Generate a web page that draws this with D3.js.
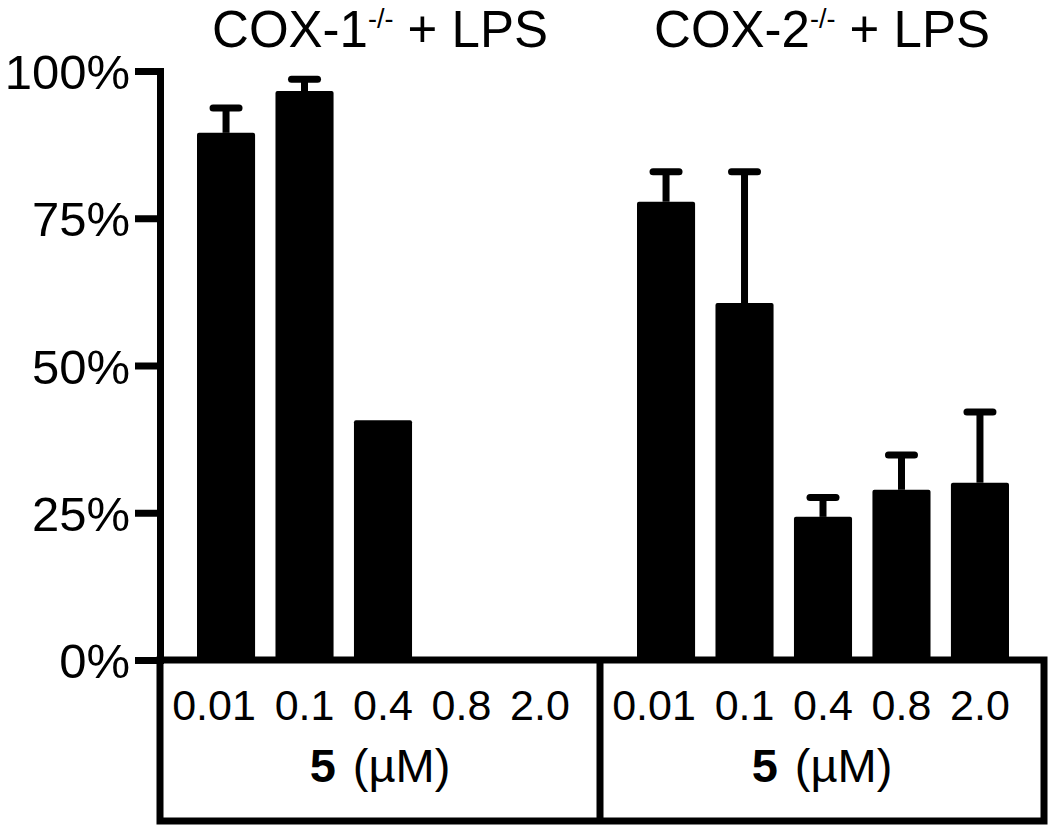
<!DOCTYPE html>
<html>
<head>
<meta charset="utf-8">
<script src="https://cdn.jsdelivr.net/npm/d3@7"></script>
<style>
  body { margin: 0; background: #fff; }
  svg { display: block; font-family: "Liberation Sans", Arial, Helvetica, sans-serif; }
</style>
</head>
<body>
<div id="chart"></div>
<script>
// data (% of control)
const groups = ["COX-1", "COX-2"];
const doses = ["0.01", "0.1", "0.4", "0.8", "2.0"];
const cox1Values = [89.5, 96.6, 40.7, 0, 0];
const cox1Errors = [4.2, 2.0, null, null, null];
const cox2Values = [77.8, 60.6, 24.3, 28.9, 30.1];
const cox2Errors = [5.1, 22.3, 3.3, 5.9, 12.0];
const yTicks = [0, 25, 50, 75, 100];
const unitLabel = "(µM)";
const compoundLabel = "5";

const seriesValues = [cox1Values, cox2Values];
const seriesErrors = [cox1Errors, cox2Errors];

const width = 1050, height = 826;
const lw = 7;

// build rows for drawing
const rows = [];
groups.forEach((g, gi) => {
    doses.forEach((d, di) => {
        rows.push({ group: g, dose: d, value: seriesValues[gi][di], err: seriesErrors[gi][di] });
    });
});

const svg = d3.select("#chart").append("svg")
    .attr("width", width)
    .attr("height", height);

// scales
const y = d3.scaleLinear().domain([0, 100]).range([660, 71]);
const xGroup = d3.scaleBand().domain(groups).range([160, 1040]);
const xDose = d3.scaleBand().domain(doses).range([37, 409]).paddingInner(0.26);
const boxRight = 1044, boxBottom = 821;

// bars
svg.append("g").selectAll("rect")
    .data(rows.filter(r => r.value > 0))
    .enter()
    .append("rect")
    .attr("x", d => xGroup(d.group) + xDose(d.dose))
    .attr("y", d => y(d.value))
    .attr("width", xDose.bandwidth())
    .attr("height", d => y(0) - y(d.value))
    .attr("rx", 2)
    .style("fill", "#000");

// error bars (upper only)
const errG = svg.append("g")
    .attr("stroke", "#000")
    .attr("stroke-width", lw)
    .attr("fill", "none");
const withErr = rows.filter(r => r.err != null && r.value > 0);
errG.selectAll(".stem")
    .data(withErr)
    .enter()
    .append("line")
    .attr("class", "stem")
    .attr("x1", d => xGroup(d.group) + xDose(d.dose) + xDose.bandwidth() / 2)
    .attr("x2", d => xGroup(d.group) + xDose(d.dose) + xDose.bandwidth() / 2)
    .attr("y1", d => y(d.value))
    .attr("y2", d => y(d.value + d.err));
errG.selectAll(".cap")
    .data(withErr)
    .enter()
    .append("line")
    .attr("class", "cap")
    .attr("stroke-linecap", "round")
    .attr("x1", d => xGroup(d.group) + xDose(d.dose) + xDose.bandwidth() / 2 - 13)
    .attr("x2", d => xGroup(d.group) + xDose(d.dose) + xDose.bandwidth() / 2 + 13)
    .attr("y1", d => y(d.value + d.err))
    .attr("y2", d => y(d.value + d.err));

// y axis
const yAxis = svg.append("g")
    .attr("transform", `translate(${xGroup.range()[0]},0)`)
    .call(d3.axisLeft(y)
        .tickValues(yTicks)
        .tickFormat(d => d + "%")
        .tickSize(25)
        .tickSizeOuter(0)
        .tickPadding(5));
yAxis.select(".domain")
    .attr("stroke-width", lw)
    .attr("stroke-linecap", "square");
yAxis.selectAll(".tick line")
    .attr("stroke-width", lw);
yAxis.selectAll(".tick text")
    .attr("fill", "#000")
    .style("font-size", "49px")
    .attr("dy", "0.36em");

// label box under the axis
const box = svg.append("g")
    .attr("stroke", "#000")
    .attr("stroke-width", lw)
    .attr("fill", "none");
box.append("rect")
    .attr("x", xGroup.range()[0])
    .attr("y", y(0))
    .attr("width", boxRight - xGroup.range()[0])
    .attr("height", boxBottom - y(0));
box.append("line")
    .attr("x1", xGroup("COX-2"))
    .attr("x2", xGroup("COX-2"))
    .attr("y1", y(0))
    .attr("y2", boxBottom);

// dose labels
svg.append("g").selectAll("text")
    .data(rows)
    .enter()
    .append("text")
    .attr("x", d => xGroup(d.group) + xDose(d.dose) + xDose.bandwidth() / 2)
    .attr("dx", d => d.dose === doses[0] ? -12 : 0)
    .attr("y", 720)
    .attr("text-anchor", "middle")
    .style("font-size", "43px")
    .text(d => d.dose);

// compound label per group
const boxCenters = [
    (xGroup.range()[0] + xGroup("COX-2")) / 2,
    (xGroup("COX-2") + boxRight) / 2
];
groups.forEach((g, gi) => {
    const t = svg.append("text")
        .attr("x", boxCenters[gi])
        .attr("y", 782)
        .attr("text-anchor", "middle")
        .style("font-size", "47px");
    t.append("tspan").style("font-weight", "bold").text(compoundLabel);
    t.append("tspan").attr("dx", 4).text(" " + unitLabel);
});

// titles with superscript
groups.forEach((g, gi) => {
    const t = svg.append("text")
        .attr("x", boxCenters[gi])
        .attr("y", 47)
        .attr("text-anchor", "middle")
        .style("font-size", "51px");
    t.append("tspan").text(g);
    t.append("tspan").attr("dy", -19).style("font-size", "27px").text("-/-");
    t.append("tspan").attr("dy", 19).text(" + LPS");
});
</script>
</body>
</html>
